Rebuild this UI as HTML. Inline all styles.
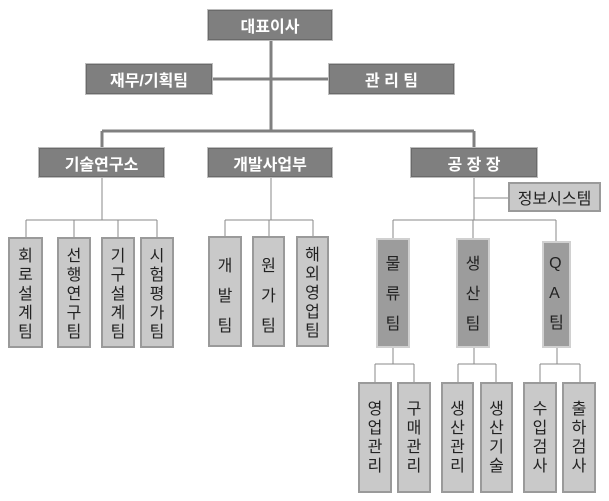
<!DOCTYPE html>
<html><head><meta charset="utf-8"><style>
body{margin:0;width:609px;height:501px;background:#fff;position:relative;overflow:hidden;font-family:"Liberation Sans","Noto Sans CJK KR",sans-serif}
.d{position:absolute;background:#7f7f7f;border:1px solid #bdbdbd;box-shadow:inset 0 0 0 1px #6a6a6a;color:#fff;font-weight:bold;font-size:16px;display:flex;align-items:center;justify-content:center;box-sizing:border-box}
.v{position:absolute;background:#c9c9c9;border:2px solid #9a9a9a;box-sizing:border-box;color:#222;font-size:16px;display:flex;flex-direction:column;align-items:center;padding-top:8px;line-height:19px}
.m{background:#9c9c9c;border-color:#d0d0d0}
.w{line-height:30px;padding-top:6px}
svg{position:absolute;left:0;top:0}
</style></head><body>
<svg width="609" height="501">
<g stroke="#888" stroke-width="1" fill="none">
<path d="M271 41V131M213 79H328M102 131H474M102 131V147M474 131V147" stroke-width="3" stroke="#808080"/>
<path d="M102 178V220M26 220H157M26 220V237M74 220V237M118 220V237M157 220V237"/>
<path d="M271 178V220M225 220H313M225 220V237M269 220V237M313 220V237"/>
<path d="M474 178V220M474 198H508M393 220H556M393 220V238M473 220V238M556 220V241"/>
<path d="M393 348V364M375 364H414M375 364V382M414 364V382"/>
<path d="M474 348V364M458 364H496M458 364V382M496 364V382"/>
<path d="M557 348V364M540 364H580M540 364V382M580 364V382"/>
</g></svg>
<div class="d" style="left:207px;top:9px;width:126px;height:32px">대표이사</div>
<div class="d" style="left:85px;top:63px;width:128px;height:32px">재무/기획팀</div>
<div class="d" style="left:328px;top:63px;width:127px;height:32px">관 리 팀</div>
<div class="d" style="left:38px;top:147px;width:127px;height:31px">기술연구소</div>
<div class="d" style="left:207px;top:147px;width:126px;height:31px">개발사업부</div>
<div class="d" style="left:410px;top:147px;width:128px;height:31px">공 장 장</div>
<div class="v" style="left:508px;top:182px;width:93px;height:30px;padding-top:4px;flex-direction:row;justify-content:center">정보시스템</div>

<div class="v" style="left:8px;top:237px;width:35px;height:111px">회<br>로<br>설<br>계<br>팀</div>
<div class="v" style="left:57px;top:237px;width:34px;height:111px">선<br>행<br>연<br>구<br>팀</div>
<div class="v" style="left:101px;top:237px;width:34px;height:111px">기<br>구<br>설<br>계<br>팀</div>
<div class="v" style="left:140px;top:237px;width:34px;height:111px">시<br>험<br>평<br>가<br>팀</div>

<div class="v w" style="left:208px;top:236px;width:34px;height:111px;padding-top:14px">개<br>발<br>팀</div>
<div class="v w" style="left:252px;top:236px;width:33px;height:111px;padding-top:14px">원<br>가<br>팀</div>
<div class="v" style="left:296px;top:236px;width:33px;height:111px">해<br>외<br>영<br>업<br>팀</div>

<div class="v w m" style="left:376px;top:238px;width:34px;height:110px;padding-top:10px">물<br>류<br>팀</div>
<div class="v w m" style="left:456px;top:238px;width:34px;height:110px;padding-top:10px">생<br>산<br>팀</div>
<div class="v w m" style="left:542px;top:241px;width:29px;height:107px;padding-top:6px">Q<br>A<br>팀</div>

<div class="v" style="left:358px;top:382px;width:34px;height:111px;padding-top:16px">영<br>업<br>관<br>리</div>
<div class="v" style="left:397px;top:382px;width:34px;height:111px;padding-top:16px">구<br>매<br>관<br>리</div>
<div class="v" style="left:441px;top:382px;width:33px;height:111px;padding-top:16px">생<br>산<br>관<br>리</div>
<div class="v" style="left:480px;top:382px;width:33px;height:111px;padding-top:16px">생<br>산<br>기<br>술</div>
<div class="v" style="left:523px;top:382px;width:34px;height:111px;padding-top:16px">수<br>입<br>검<br>사</div>
<div class="v" style="left:562px;top:382px;width:34px;height:111px;padding-top:16px">출<br>하<br>검<br>사</div>
</body></html>
